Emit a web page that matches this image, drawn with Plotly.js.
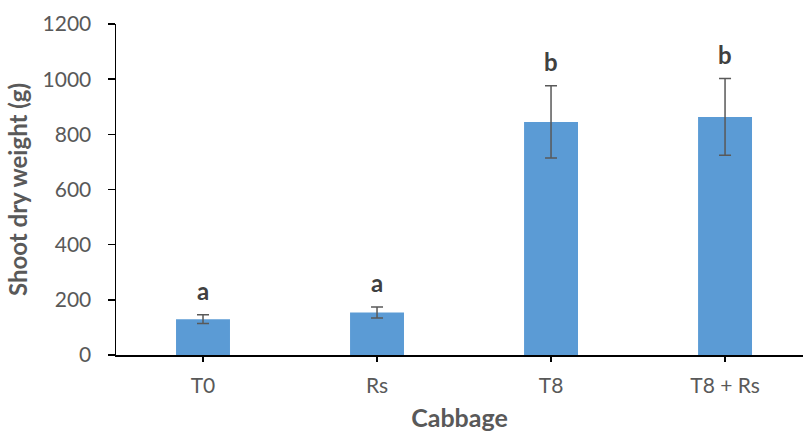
<!DOCTYPE html>
<html>
<head>
<meta charset="utf-8">
<script src="https://cdn.plot.ly/plotly-3.0.1.min.js"></script>
<style>
  html, body { margin: 0; padding: 0; background: #fff; }
  #chart { width: 803px; height: 438px; }
</style>
</head>
<body>
<div id="chart"></div>
<script>
// Shoot dry weight of cabbage per treatment (mean ± error)
const treatments = ["T0", "Rs", "T8", "T8 + Rs"];
const shootDryWeight = [130, 154, 845, 863];
const errorValues = [16, 20, 131, 139];
const groupLetters = ["a", "a", "b", "b"];

const textColor = "#595959";
const fontFamily = "Lato, 'Open Sans', sans-serif";

const barTrace = {
  type: "bar",
  x: treatments,
  y: shootDryWeight,
  width: 0.31,
  marker: { color: "#5B9BD5" },
  error_y: {
    type: "data",
    array: errorValues,
    visible: true,
    color: "#595959",
    thickness: 1.5,
    width: 6
  },
  hoverinfo: "skip"
};

// Significance letters sit just above each error bar
const letterAnnotations = treatments.map((t, i) => ({
  x: t,
  y: shootDryWeight[i] + errorValues[i],
  xref: "x",
  yref: "y",
  text: "<b>" + groupLetters[i] + "</b>",
  showarrow: false,
  yanchor: "bottom",
  yshift: 8,
  font: { family: fontFamily, size: 24, color: "#404040" }
}));

const layout = {
  width: 803,
  height: 438,
  margin: { l: 116, r: 0, t: 24, b: 83 },
  paper_bgcolor: "#ffffff",
  plot_bgcolor: "#ffffff",
  showlegend: false,
  font: { family: fontFamily, color: textColor },
  xaxis: {
    type: "category",
    range: [-0.5, 3.448],
    showline: true,
    linecolor: "#000000",
    linewidth: 1.5,
    ticks: "outside",
    ticklen: 5,
    tickwidth: 1.5,
    tickcolor: "#000000",
    ticklabelstandoff: 6,
    tickfont: { family: fontFamily, size: 21, color: textColor },
    showgrid: false,
    zeroline: false,
    title: {
      text: "<b>Cabbage</b>",
      font: { family: fontFamily, size: 25, color: textColor },
      standoff: 14
    }
  },
  yaxis: {
    range: [0, 1200],
    tickvals: [0, 200, 400, 600, 800, 1000, 1200],
    showline: true,
    linecolor: "#000000",
    linewidth: 1.5,
    ticks: "outside",
    ticklen: 7,
    tickwidth: 1.5,
    tickcolor: "#000000",
    ticklabelstandoff: 12,
    tickfont: { family: fontFamily, size: 21, color: textColor },
    showgrid: false,
    zeroline: false,
    title: {
      text: "<b>Shoot dry weight (g)</b>",
      font: { family: fontFamily, size: 24, color: textColor },
      standoff: 8
    }
  },
  annotations: letterAnnotations
};

Plotly.newPlot("chart", [barTrace], layout, { displayModeBar: false, staticPlot: true });
</script>
</body>
</html>
